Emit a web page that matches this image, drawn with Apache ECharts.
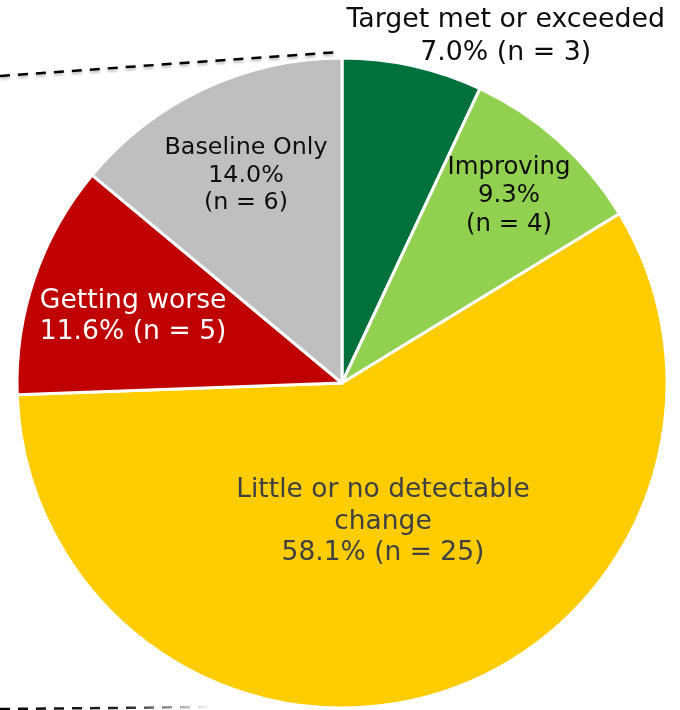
<!DOCTYPE html>
<html>
<head>
<meta charset="utf-8">
<style>
  html, body { margin: 0; padding: 0; background: #ffffff; }
  #chart { width: 680px; height: 710px; }
</style>
<script src="https://cdn.jsdelivr.net/npm/echarts@6/dist/echarts.min.js"></script>
</head>
<body>
<div id="chart"></div>
<script>
// Status of indicators, clockwise from 12 o'clock
const categories = [
  'Target met or exceeded',
  'Improving',
  'Little or no detectable\nchange',
  'Getting worse',
  'Baseline Only'
];
const counts = [3, 4, 25, 5, 6];

// How each label reads: {c} = category, {p} = percent, {n} = count
const labelTemplates = [
  '{c}\n{p} (n = {n})',
  '{c}\n{p}\n(n = {n})',
  '{c}\n{p} (n = {n})',
  '{c}\n{p} (n = {n})',
  '{c}\n{p}\n(n = {n})'
];

// Slice colours and label styling
const sliceColors = ['#00703c', '#92d050', '#ffcc00', '#c00000', '#bfbfbf'];
const labelColors = ['#0d0d0d', '#0d0d0d', '#404040', '#ffffff', '#0d0d0d'];
const labelSizes = [26.8, 24.4, 26.5, 26.6, 23.8];
const labelLineHeights = [33, 28.5, 31.5, 31, 27.5];
// Label anchor: distance from the centre as a share of the radius, and a turn (deg) off the slice middle
const labelRadius = [1.185, 0.776, 0.44, 0.676, 0.709];
const labelTurn = [12.6, -0.4, 0.1, -0.8, 0.5];
const LABEL_NUDGE_Y = 2;

const CX = 342, CY = 383, R = 325;

const total = counts.reduce((a, b) => a + b, 0);
const midAngles = [];
let acc = 0;
counts.forEach(v => {
  midAngles.push((acc + v / 2) / total * 360);
  acc += v;
});

const chart = echarts.init(document.getElementById('chart'), null, { renderer: 'canvas' });

chart.setOption({
  backgroundColor: '#ffffff',
  animation: false,
  graphic: [
    {
      type: 'line',
      shape: { x1: 0, y1: 76, x2: 339, y2: 52 },
      style: {
        stroke: '#000000', lineWidth: 2.5, lineDash: [10, 8],
        shadowBlur: 3, shadowColor: 'rgba(0,0,0,0.3)', shadowOffsetY: 2
      },
      z: 10
    },
    {
      type: 'line',
      shape: { x1: 0, y1: 709, x2: 210, y2: 707 },
      style: {
        stroke: {
          type: 'linear', x: 0, y: 0, x2: 1, y2: 0,
          colorStops: [
            { offset: 0, color: 'rgba(0,0,0,1)' },
            { offset: 0.6, color: 'rgba(0,0,0,0.85)' },
            { offset: 1, color: 'rgba(0,0,0,0)' }
          ]
        },
        lineWidth: 2.5, lineDash: [10, 8]
      },
      z: 10
    }
  ],
  series: [{
    type: 'pie',
    center: [CX, CY],
    radius: [0, R],
    startAngle: 90,
    clockwise: true,
    avoidLabelOverlap: false,
    itemStyle: { borderColor: '#ffffff', borderWidth: 3 },
    emphasis: { disabled: true },
    labelLine: { show: false },
    label: {
      show: true,
      position: 'inside',
      fontFamily: 'DejaVu Sans, Verdana, sans-serif',
      align: 'center',
      verticalAlign: 'middle',
      textBorderWidth: 0,
      textBorderColor: 'transparent',
      textShadowBlur: 0,
      formatter: p => labelTemplates[p.dataIndex]
        .replace('{c}', p.name)
        .replace('{p}', (p.value / total * 100).toFixed(1) + '%')
        .replace('{n}', p.value)
    },
    labelLayout: params => {
      const i = params.dataIndex;
      const a = (midAngles[i] + labelTurn[i]) * Math.PI / 180;
      const d = labelRadius[i] * R;
      return {
        x: CX + d * Math.sin(a),
        y: CY - d * Math.cos(a) + LABEL_NUDGE_Y,
        align: 'center',
        verticalAlign: 'middle'
      };
    },
    data: categories.map((name, i) => ({
      name,
      value: counts[i],
      itemStyle: { color: sliceColors[i] },
      label: {
        color: labelColors[i],
        fontSize: labelSizes[i],
        lineHeight: labelLineHeights[i],
        textBorderWidth: 0
      }
    }))
  }]
});
</script>
</body>
</html>
